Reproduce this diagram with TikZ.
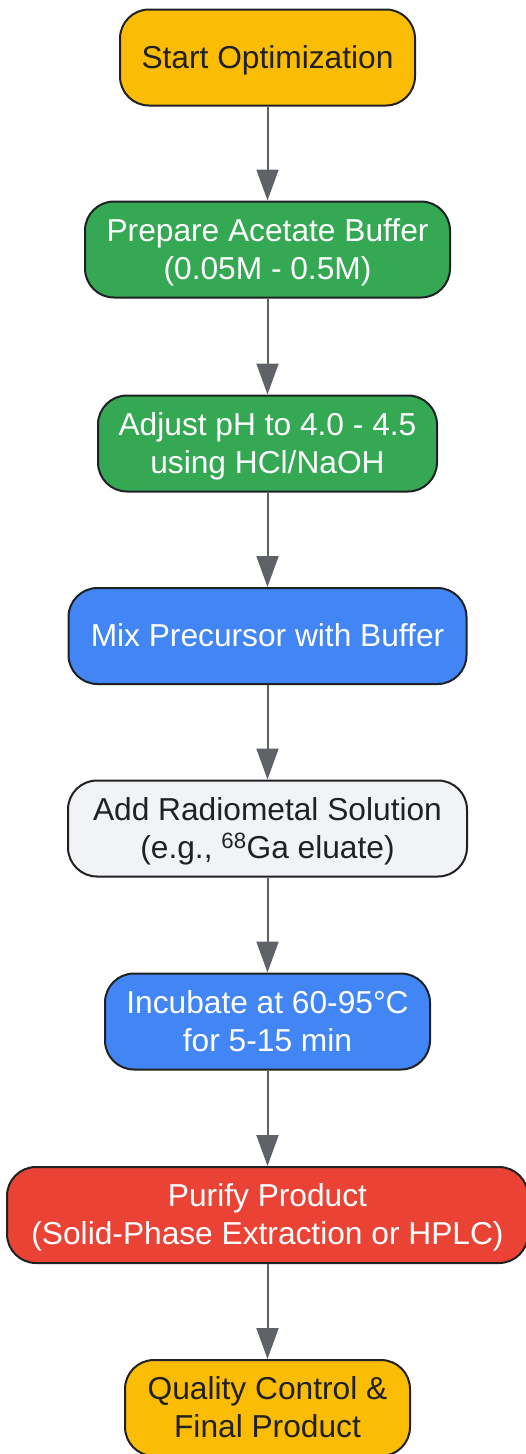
\documentclass[tikz,border=0pt]{standalone}
\usepackage{fontspec}
\setmainfont{Liberation Sans}
\usetikzlibrary{arrows.meta}
\definecolor{gamarillo}{HTML}{FBBC04}
\definecolor{gverde}{HTML}{34A853}
\definecolor{gazul}{HTML}{4285F4}
\definecolor{ggris}{HTML}{F1F3F4}
\definecolor{grojo}{HTML}{EA4335}
\definecolor{gborde}{HTML}{202124}
\definecolor{gflecha}{HTML}{5F6368}
\newcommand{\puntal}{\rule[-8.5pt]{0pt}{38pt}}
\tikzset{
	paso/.style={draw=gborde,line width=2pt,rounded corners=29pt,
		minimum height=96pt,inner sep=0pt,align=center,
		font=\fontsize{31.7}{38}\selectfont},
	flecha/.style={draw=gflecha,line width=2pt,
		-{Triangle[length=31pt,width=22pt]}}
}
\begin{document}
\begin{tikzpicture}[x=1pt,y=-1pt]
	\useasboundingbox (0,0) rectangle (526,1454);
	% pasos del protocolo
	\foreach \Xc/\Yc/\Ancho/\Color/\Letra/\Texto in 
	{1/57.5/295/gamarillo/gborde/{Start Optimization},
	 2/249.5/365/gverde/white/{Prepare Acetate Buffer\\(0.05M - 0.5M)},
	 3/443.5/339/gverde/white/{Adjust pH to 4.0 - 4.5\\using HCl/NaOH},
	 4/636/398/gazul/white/{Mix Precursor with Buffer},
	 5/828.5/399/ggris/gborde/{Add Radiometal Solution\\(e.g., \textsuperscript{68}Ga eluate)},
	 6/1021.5/325/gazul/white/{Incubate at 60-95°C\\for 5-15 min},
	 7/1215/521/grojo/white/{Purify Product\\(Solid-Phase Extraction or HPLC)},
	 8/1408/285/gamarillo/gborde/{Quality Control \&\\Final Product}}
	{
		\node[paso,fill=\Color,text=\Letra,minimum width=\Ancho] 
		(n\Xc) at (267.5,\Yc) {\puntal\Texto\puntal};
	}
	\foreach \Xc [evaluate=\Xc as \Sig using int(\Xc+1)] in {1,...,7}
	{
		\draw[flecha] (n\Xc) -- (n\Sig);
	}
\end{tikzpicture}
\end{document}
